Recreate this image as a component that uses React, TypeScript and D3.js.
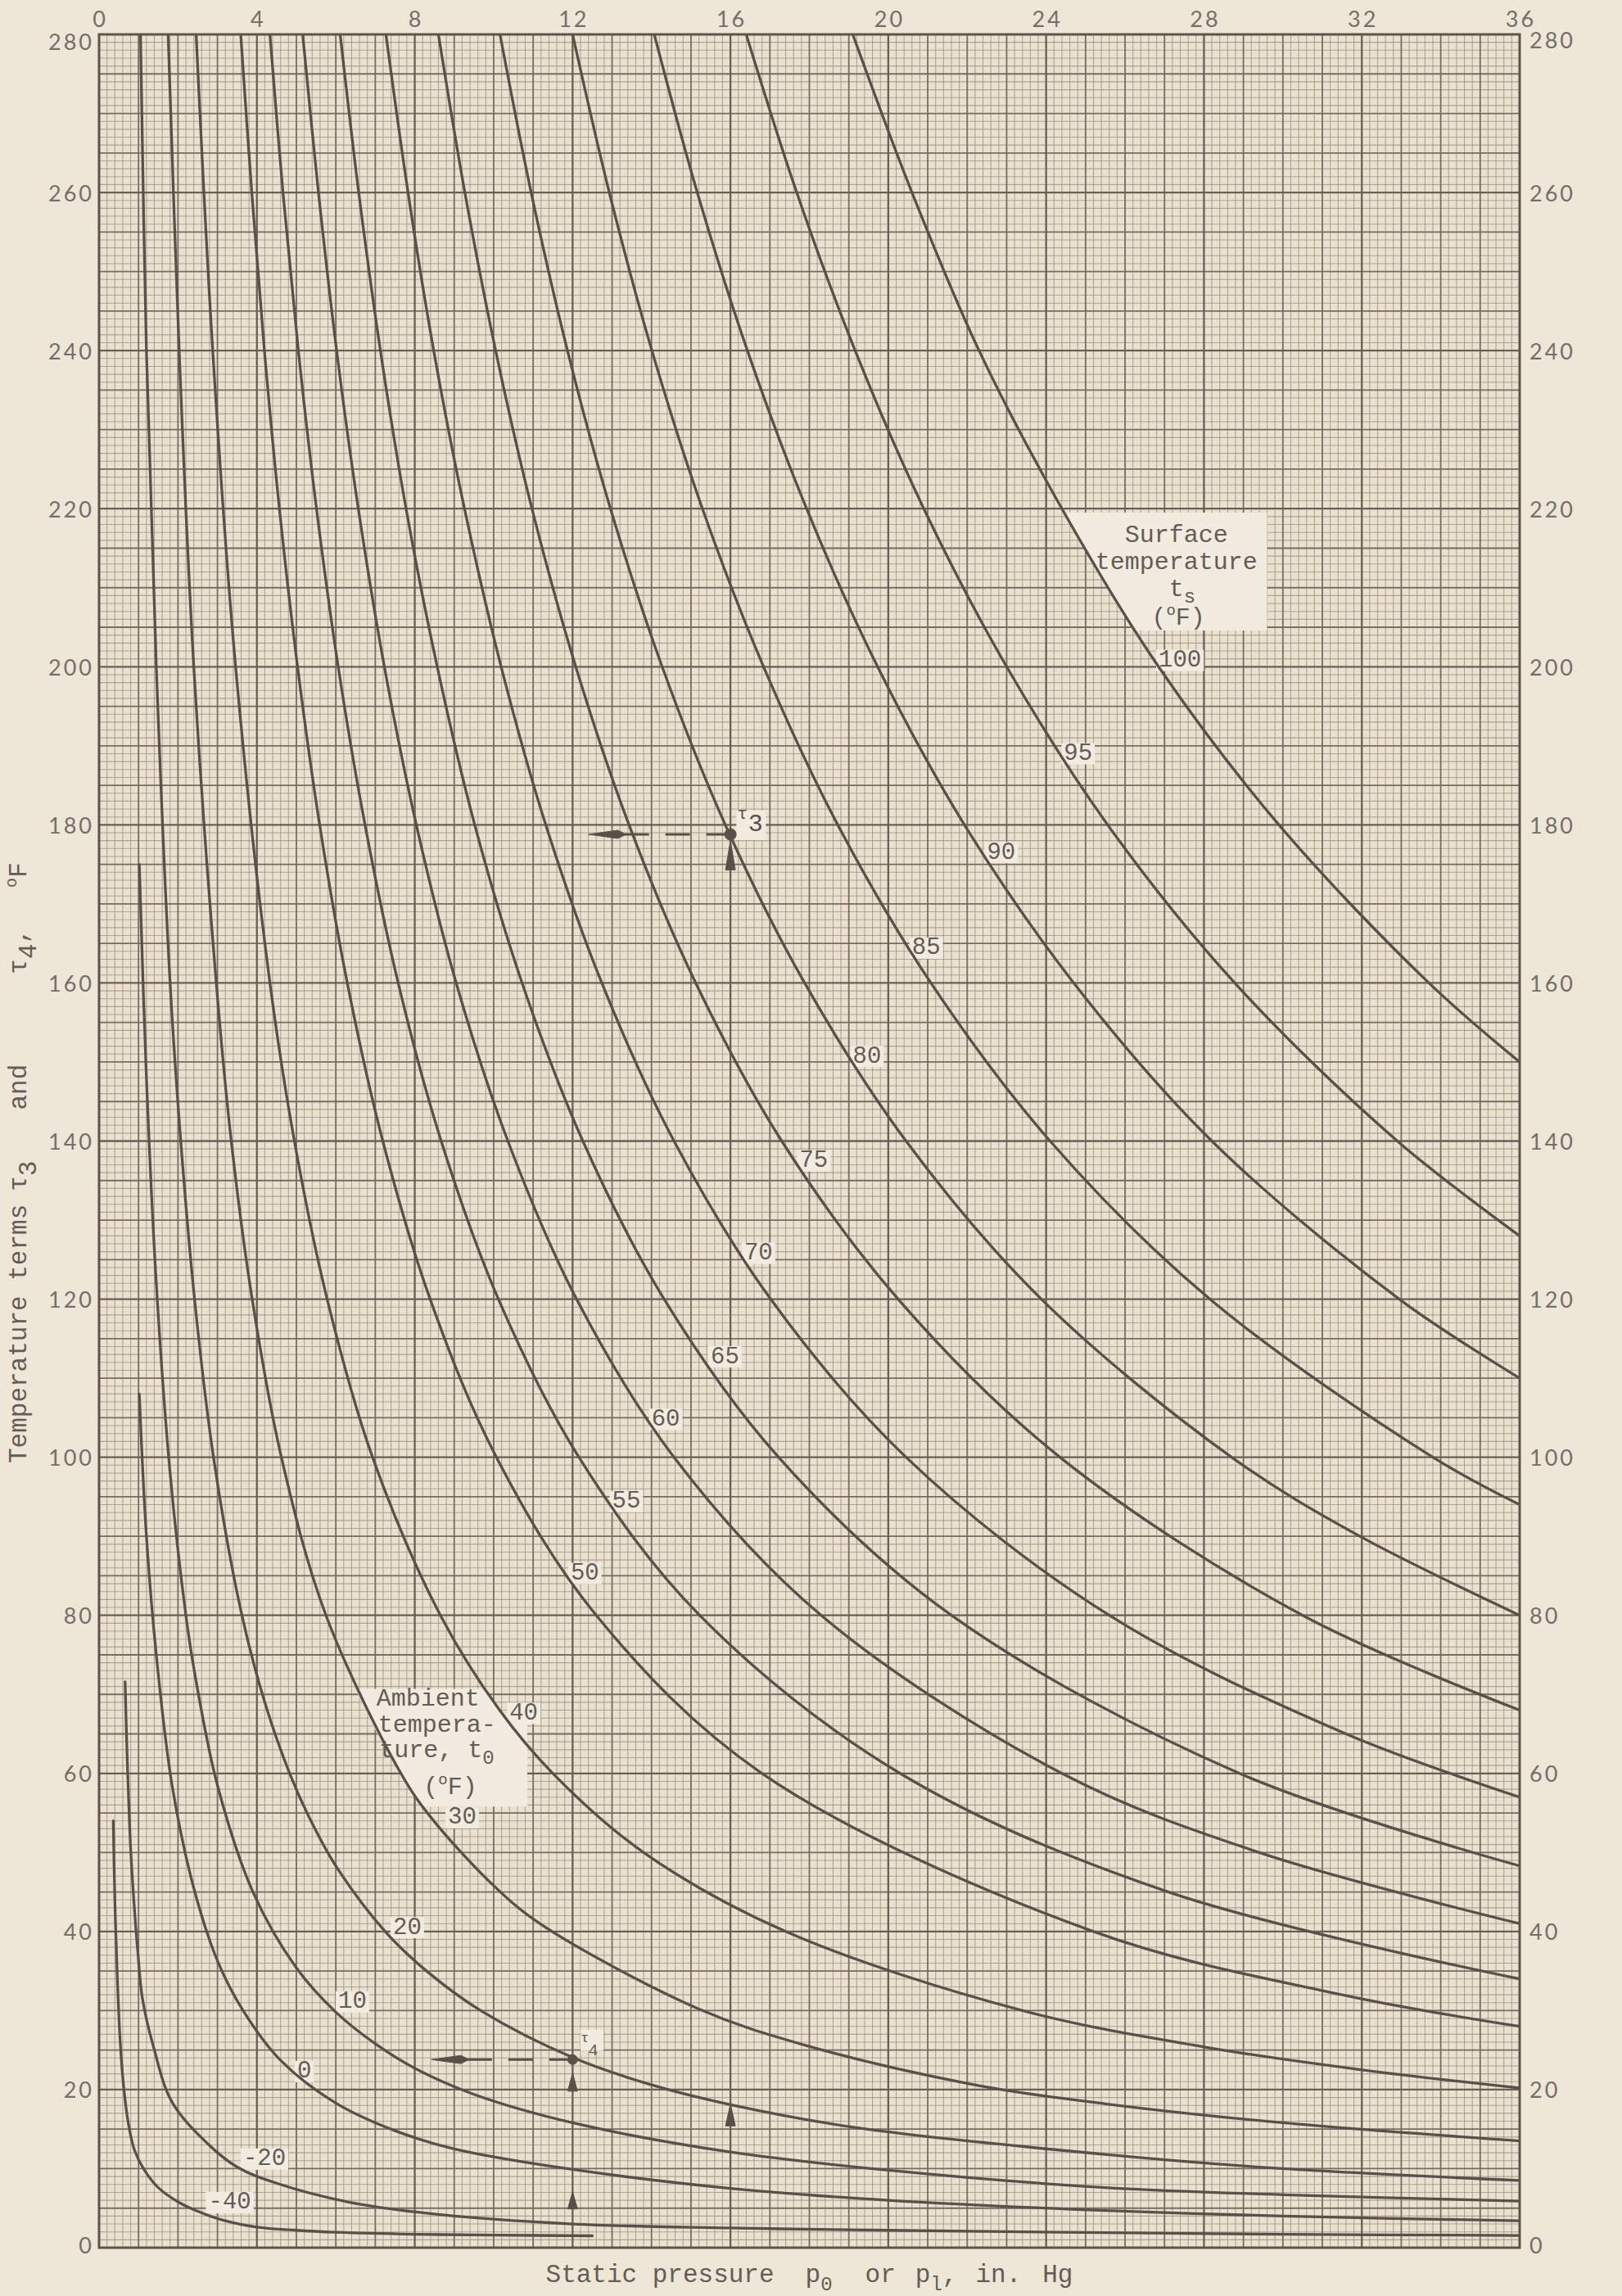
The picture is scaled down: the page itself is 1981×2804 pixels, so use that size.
import React from 'react';
import * as d3 from 'd3';

const W = 1981;
const H = 2804;
const M = { left: 121, right: 1856, top: 42, bottom: 2745 };

type Pt = [number, number];

// axis ticks
const xTickValues = [0, 4, 8, 12, 16, 20, 24, 28, 32, 36];
const yTickValues = [0, 20, 40, 60, 80, 100, 120, 140, 160, 180, 200, 220, 240, 260, 280];

// surface temperature curves, points are [p in. Hg, tau deg F]
const ts100: Pt[] = [[19.1, 280], [20.6, 260], [22.3, 240], [24.4, 220], [26.85, 200], [29.9, 180], [33.7, 160], [36, 150]];
const ts95: Pt[] = [[16.4, 280], [17.68, 260], [19.16, 240], [20.9, 220], [23.0, 200], [25.56, 180], [28.78, 160], [32.9, 140], [36, 128]];
const ts90: Pt[] = [[14.07, 280], [15.16, 260], [16.43, 240], [17.93, 220], [19.73, 200], [21.93, 180], [24.7, 160], [28.2, 140], [32.95, 120], [36, 110]];
const ts85: Pt[] = [[12.0, 280], [12.93, 260], [14.01, 240], [15.29, 220], [16.84, 200], [18.72, 180], [21.08, 160], [24.1, 140], [28.15, 120], [33.8, 100], [36, 94]];
const ts80: Pt[] = [[10.16, 280], [10.95, 260], [11.87, 240], [12.96, 220], [14.27, 200], [15.87, 180], [17.88, 160], [20.45, 140], [23.88, 120], [28.7, 100], [31.95, 90], [36, 80]];
const ts75: Pt[] = [[8.6, 280], [9.27, 260], [10.05, 240], [10.97, 220], [12.08, 200], [13.43, 180], [15.12, 160], [17.3, 140], [20.25, 120], [24.35, 100], [30.5, 80], [36, 68]];
const ts70: Pt[] = [[7.27, 280], [7.83, 260], [8.48, 240], [9.26, 220], [10.19, 200], [11.32, 180], [12.74, 160], [14.57, 140], [17.02, 120], [20.45, 100], [25.6, 80], [31.6, 65], [36, 57]];
const ts65: Pt[] = [[6.11, 280], [6.58, 260], [7.13, 240], [7.78, 220], [8.57, 200], [9.52, 180], [10.72, 160], [12.26, 140], [14.32, 120], [17.22, 100], [21.6, 80], [28.9, 60], [36, 48.3]];
const ts60: Pt[] = [[5.16, 280], [5.56, 260], [6.02, 240], [6.57, 220], [7.23, 200], [8.04, 180], [9.05, 160], [10.36, 140], [12.1, 120], [14.57, 100], [18.3, 80], [24.4, 60], [29.4, 50], [36, 41]];
const ts55: Pt[] = [[4.33, 280], [4.66, 260], [5.05, 240], [5.51, 220], [6.06, 200], [6.74, 180], [7.58, 160], [8.67, 140], [10.12, 120], [12.16, 100], [15.22, 80], [20.3, 60], [27.1, 45], [36, 34]];
const ts50: Pt[] = [[3.59, 280], [3.87, 260], [4.19, 240], [4.57, 220], [5.03, 200], [5.59, 180], [6.29, 160], [7.19, 140], [8.39, 120], [10.07, 100], [12.6, 80], [16.8, 60], [25.2, 40], [31.5, 32], [36, 28]];

// ambient temperature curves
const ta40: Pt[] = [[2.46, 280], [2.88, 240], [3.46, 200], [4.33, 160], [4.95, 140], [5.78, 120], [6.93, 100], [8.65, 80], [10.15, 68], [11.5, 60], [13.8, 50], [17.4, 40], [23.4, 30], [28, 25.4], [32, 22.5], [36, 20.2]];
const ta30: Pt[] = [[1.75, 280], [2.03, 240], [2.4, 200], [2.97, 160], [3.35, 140], [3.88, 120], [4.62, 100], [5.75, 80], [7.65, 60], [8.4, 54.5], [10.0, 45.8], [11.2, 40.9], [15.2, 30.2], [17.9, 25.6], [22.3, 20.5], [25.5, 18.2], [30, 15.8], [36, 13.5]];
const ta20: Pt[] = [[1.05, 280], [1.2, 240], [1.45, 200], [1.8, 160], [2.07, 140], [2.42, 120], [2.9, 100], [3.62, 80], [4.2, 69], [4.83, 60], [5.3, 54.7], [6.0, 48.3], [7.25, 40], [8.3, 35], [9.67, 30], [12.03, 24], [14.0, 20.6], [16, 18.1], [19.3, 15.1], [25.5, 11.8], [30, 10.0], [36, 8.5]];
const ta10: Pt[] = [[1.02, 175], [1.2, 148], [1.45, 122], [1.8, 98], [2.2, 80], [2.43, 72.5], [3.0, 58.5], [3.9, 45], [5.0, 35.4], [6.0, 29.8], [7.0, 25.8], [8.0, 22.7], [9.5, 19.4], [12.0, 15.8], [16, 12.1], [20, 9.8], [25.5, 7.6], [30, 6.7], [36, 5.9]];
const ta0: Pt[] = [[1.02, 108], [1.2, 90], [1.45, 75], [1.85, 58.5], [2.4, 45.5], [3.0, 36.3], [3.65, 30.0], [4.6, 23.7], [6.0, 18.3], [7.5, 14.8], [9.0, 12.5], [12.0, 9.9], [16, 7.5], [20, 6.0], [25.5, 4.7], [30, 4.0], [36, 3.4]];
const taM20: Pt[] = [[0.66, 71.6], [0.7, 64], [0.74, 58], [0.8, 50.5], [0.88, 44], [0.98, 37.5], [1.1, 31.5], [1.38, 25.4], [1.84, 18.5], [2.68, 13.5], [3.5, 10.2], [4.53, 8.1], [6.3, 5.8], [8.6, 4.2], [12, 3.0], [16, 2.5], [20, 2.2], [25.5, 1.9], [30, 1.7], [36, 1.55]];
const taM40: Pt[] = [[0.36, 54], [0.4, 44], [0.46, 34.5], [0.53, 26.5], [0.62, 20.5], [0.75, 15.5], [0.9, 12.3], [1.15, 9.8], [1.5, 7.6], [2.0, 5.8], [2.5, 4.6], [3.2, 3.4], [4.0, 2.6], [5.0, 2.2], [6.0, 1.95], [8.0, 1.7], [10, 1.6], [12.5, 1.5]];

// label anchors (left edge of the text), [p, tau]
const series = [
  { label: '100', pts: ts100, at: [26.85, 200.8] as Pt },
  { label: '95', pts: ts95, at: [24.45, 189] as Pt },
  { label: '90', pts: ts90, at: [22.5, 176.5] as Pt },
  { label: '85', pts: ts85, at: [20.6, 164.4] as Pt },
  { label: '80', pts: ts80, at: [19.1, 150.7] as Pt },
  { label: '75', pts: ts75, at: [17.75, 137.5] as Pt },
  { label: '70', pts: ts70, at: [16.35, 125.8] as Pt },
  { label: '65', pts: ts65, at: [15.5, 112.7] as Pt },
  { label: '60', pts: ts60, at: [14.0, 104.8] as Pt },
  { label: '55', pts: ts55, at: [13.0, 94.4] as Pt },
  { label: '50', pts: ts50, at: [11.95, 85.3] as Pt },
  { label: '40', pts: ta40, at: [10.4, 67.6] as Pt },
  { label: '30', pts: ta30, at: [8.84, 54.4] as Pt },
  { label: '20', pts: ta20, at: [7.45, 40.5] as Pt },
  { label: '10', pts: ta10, at: [6.06, 31.1] as Pt },
  { label: '0', pts: ta0, at: [5.02, 22.3] as Pt },
  { label: '-20', pts: taM20, at: [3.65, 11.2] as Pt },
  { label: '-40', pts: taM40, at: [2.77, 5.7] as Pt },
];

// worked examples
const tau3Point: Pt = [16, 178.8];
const tau3ArrowTip = 12.4;
const tau4Point: Pt = [12, 23.8];
const tau4ArrowTip = 8.42;

// cleared areas behind the block labels
const surfaceBox: Pt[] = [[24.45, 219.5], [29.6, 219.5], [29.6, 204.6], [26.25, 204.6]];
const ambientBox: Pt[] = [[6.5, 70.7], [9.75, 70.7], [10.35, 66.5], [10.85, 66.5], [10.85, 55.8], [8.2, 55.8], [7.6, 60.3], [7.0, 65.5]];

const PAPER = '#eee6d6';
const PATCH = '#f1ebe0';
const INK = '#5a504a';
const TEXT = '#645c56';
const TICK = '#766e68';
const MONO = '"Liberation Mono", "DejaVu Sans Mono", monospace';
const SANS = 'Lato, "DejaVu Sans", sans-serif';

export default function App() {
  const x = d3.scaleLinear().domain([0, 36]).range([M.left, M.right]);
  const y = d3.scaleLinear().domain([0, 280]).range([M.bottom, M.top]);
  const line = d3
    .line<Pt>()
    .x((d) => x(d[0]))
    .y((d) => y(d[1]))
    .curve(d3.curveCatmullRom.alpha(0.5));
  const poly = (pts: Pt[]) => pts.map((d) => `${x(d[0])},${y(d[1])}`).join(' ');

  const fineX = d3.range(0, 180).map((i) => i * 0.2).filter((v, i) => i % 5 !== 0);
  const fineY = d3.range(1, 280).filter((v) => v % 5 !== 0);
  const midX = d3.range(1, 36).filter((v) => v % 4 !== 0);
  const majX = d3.range(4, 36, 4);
  const midY = d3.range(5, 280, 5).filter((v) => v % 20 !== 0);
  const majY = d3.range(20, 280, 20);

  const LFS = 29;
  const upArrow = (p: number, tip: number, base: number) =>
    `${x(p)},${y(tip)} ${x(p) - 6},${y(base)} ${x(p) + 6},${y(base)}`;
  const leftArrow = (tipP: number, tau: number) => {
    const tx = x(tipP);
    const ty = y(tau);
    return `${tx},${ty} ${tx + 36},${ty - 5} ${tx + 46},${ty} ${tx + 36},${ty + 5}`;
  };

  return (
    <svg
      width={W}
      height={H}
      viewBox={`0 0 ${W} ${H}`}
      style={{ position: 'absolute', left: 0, top: 0, display: 'block' }}
    >
      <rect x={0} y={0} width={W} height={H} fill={PAPER} />
      <rect x={M.left} y={M.top} width={M.right - M.left} height={M.bottom - M.top} fill="#ebe1cf" />

      {/* fine grid */}
      <g stroke="#988a7e" strokeWidth={1.1} strokeOpacity={0.7}>
        {fineX.map((v) => (
          <line key={`fx${v}`} x1={x(v)} x2={x(v)} y1={M.top} y2={M.bottom} />
        ))}
        {fineY.map((v) => (
          <line key={`fy${v}`} x1={M.left} x2={M.right} y1={y(v)} y2={y(v)} />
        ))}
      </g>
      {/* medium grid */}
      <g stroke="#776b63" strokeWidth={1.8}>
        {midX.map((v) => (
          <line key={`mx${v}`} x1={x(v)} x2={x(v)} y1={M.top} y2={M.bottom} />
        ))}
        {midY.map((v) => (
          <line key={`my${v}`} x1={M.left} x2={M.right} y1={y(v)} y2={y(v)} />
        ))}
      </g>
      {/* major grid */}
      <g stroke="#6a5f57" strokeWidth={2.3}>
        {majX.map((v) => (
          <line key={`Mx${v}`} x1={x(v)} x2={x(v)} y1={M.top} y2={M.bottom} />
        ))}
        {majY.map((v) => (
          <line key={`My${v}`} x1={M.left} x2={M.right} y1={y(v)} y2={y(v)} />
        ))}
      </g>

      {/* cleared label areas */}
      <polygon points={poly(surfaceBox)} fill={PATCH} />
      <polygon points={poly(ambientBox)} fill={PATCH} />
      {series.map((s) => (
        <rect
          key={`p${s.label}`}
          x={x(s.at[0]) - 3}
          y={y(s.at[1]) - LFS * 0.45}
          width={s.label.length * LFS * 0.6 + 6}
          height={LFS * 0.9}
          fill={PATCH}
        />
      ))}
      <rect x={x(16.15)} y={y(181.8)} width={36} height={36} fill={PATCH} />
      <rect x={x(12.2)} y={y(27.6)} width={28} height={26} fill={PATCH} />

      {/* curves */}
      <defs>
        <clipPath id="plotClip">
          <rect x={M.left} y={M.top} width={M.right - M.left} height={M.bottom - M.top} />
        </clipPath>
      </defs>
      <g clipPath="url(#plotClip)" fill="none" stroke={INK} strokeWidth={3.3} strokeLinecap="round">
        {series.map((s) => (
          <path key={`c${s.label}`} d={line(s.pts) ?? ''} />
        ))}
      </g>

      {/* frame */}
      <rect
        x={M.left}
        y={M.top}
        width={M.right - M.left}
        height={M.bottom - M.top}
        fill="none"
        stroke="#5e544d"
        strokeWidth={3}
      />

      {/* worked example tau3 */}
      <g fill={INK} stroke={INK}>
        <line
          x1={x(tau3ArrowTip) + 44}
          x2={x(tau3Point[0]) - 6}
          y1={y(tau3Point[1])}
          y2={y(tau3Point[1])}
          strokeWidth={3}
          strokeDasharray="30 20"
        />
        <polygon points={leftArrow(tau3ArrowTip, tau3Point[1])} strokeWidth={1} />
        <circle cx={x(tau3Point[0])} cy={y(tau3Point[1])} r={7} />
        <polygon points={upArrow(tau3Point[0], 178, 174.3)} strokeWidth={1} />
        <polygon points={upArrow(16, 18.2, 15.4)} strokeWidth={1} />
      </g>
      {/* worked example tau4 */}
      <g fill={INK} stroke={INK}>
        <line
          x1={x(tau4ArrowTip) + 44}
          x2={x(tau4Point[0]) - 6}
          y1={y(tau4Point[1])}
          y2={y(tau4Point[1])}
          strokeWidth={3}
          strokeDasharray="30 20"
        />
        <polygon points={leftArrow(tau4ArrowTip, tau4Point[1])} strokeWidth={1} />
        <circle cx={x(tau4Point[0])} cy={y(tau4Point[1])} r={6} />
        <polygon points={upArrow(tau4Point[0], 22.1, 19.8)} strokeWidth={1} />
        <polygon points={upArrow(tau4Point[0], 7.1, 4.9)} strokeWidth={1} />
      </g>
      <text x={x(16.18)} y={y(181.3)} fontFamily={MONO} fontSize={20} fill={INK} dominantBaseline="central">
        τ
      </text>
      <text x={x(16.45)} y={y(180)} fontFamily={MONO} fontSize={30} fill={INK} dominantBaseline="central">
        3
      </text>
      <text x={x(12.2)} y={y(26.5)} fontFamily={MONO} fontSize={17} fill={TEXT} dominantBaseline="central">
        τ
      </text>
      <text x={x(12.4)} y={y(24.9)} fontFamily={MONO} fontSize={20} fill={TEXT} dominantBaseline="central">
        4
      </text>

      {/* curve labels */}
      {series.map((s) => (
        <text
          key={`t${s.label}`}
          x={x(s.at[0])}
          y={y(s.at[1])}
          fontFamily={MONO}
          fontSize={LFS}
          fill={TEXT}
          dominantBaseline="central"
        >
          {s.label}
        </text>
      ))}

      {/* block labels */}
      <g fontFamily={MONO} fontSize={30} fill={TEXT} textAnchor="middle" dominantBaseline="central">
        <text x={x(27.3)} y={y(216.6)}>Surface</text>
        <text x={x(27.3)} y={y(213.2)}>temperature</text>
        <text x={x(27.45)} y={y(209.8)}>
          t<tspan fontSize={24} dy={9}>s</tspan>
        </text>
        <text x={x(27.35)} y={y(206.1)}>
          (<tspan fontSize={19} dy={-9}>o</tspan>
          <tspan dy={9}>F)</tspan>
        </text>
      </g>
      <g fontFamily={MONO} fontSize={30} fill={TEXT} dominantBaseline="central">
        <text x={x(7.03)} y={y(69.4)}>Ambient</text>
        <text x={x(7.07)} y={y(66.1)}>tempera-</text>
        <text x={x(7.1)} y={y(62.9)}>
          ture, t<tspan fontSize={24} dy={9}>0</tspan>
        </text>
        <text x={x(8.9)} y={y(58.2)} textAnchor="middle">
          (<tspan fontSize={19} dy={-9}>o</tspan>
          <tspan dy={9}>F)</tspan>
        </text>
      </g>

      {/* tick labels */}
      <g fontFamily={SANS} fontSize={27} fontWeight={400} fill={TICK} letterSpacing={3}>
        {xTickValues.map((v) => (
          <text key={`xt${v}`} x={x(v) + 1.5} y={33} textAnchor="middle">
            {v}
          </text>
        ))}
        {yTickValues.map((v) => (
          <text
            key={`yl${v}`}
            x={M.left - 6}
            y={y(v) + (v === 280 ? 8 : v === 0 ? -4 : 0)}
            textAnchor="end"
            dominantBaseline="central"
          >
            {v}
          </text>
        ))}
        {yTickValues.map((v) => (
          <text
            key={`yr${v}`}
            x={M.right + 12}
            y={y(v) + (v === 280 ? 6 : v === 0 ? -4 : 0)}
            textAnchor="start"
            dominantBaseline="central"
          >
            {v}
          </text>
        ))}
      </g>

      {/* axis titles */}
      <text x={(M.left + M.right) / 2} y={2787} textAnchor="middle" fontFamily={MONO} fontSize={31} fill={TEXT}>
        Static pressure
        <tspan dx={38}>p</tspan>
        <tspan fontSize={24} dy={10}>0</tspan>
        <tspan dy={-10} dx={40}>or</tspan>
        <tspan dx={24}>p</tspan>
        <tspan fontSize={24} dy={10}>l</tspan>
        <tspan dy={-10}>,</tspan>
        <tspan dx={22}>in.</tspan>
        <tspan dx={26}>Hg</tspan>
      </text>
      <text
        x={32}
        y={1787}
        transform="rotate(-90, 32, 1787)"
        fontFamily={MONO}
        fontSize={31}
        fill={TEXT}
      >
        Temperature terms
        <tspan dx={16}>τ</tspan>
        <tspan dy={12}>3</tspan>
        <tspan dy={-12} dx={62}>and</tspan>
        <tspan dx={110}>τ</tspan>
        <tspan dy={12}>4</tspan>
        <tspan dy={-12}>,</tspan>
        <tspan dx={50} fontSize={20} dy={-12}>o</tspan>
        <tspan dy={12}>F</tspan>
      </text>
    </svg>
  );
}
